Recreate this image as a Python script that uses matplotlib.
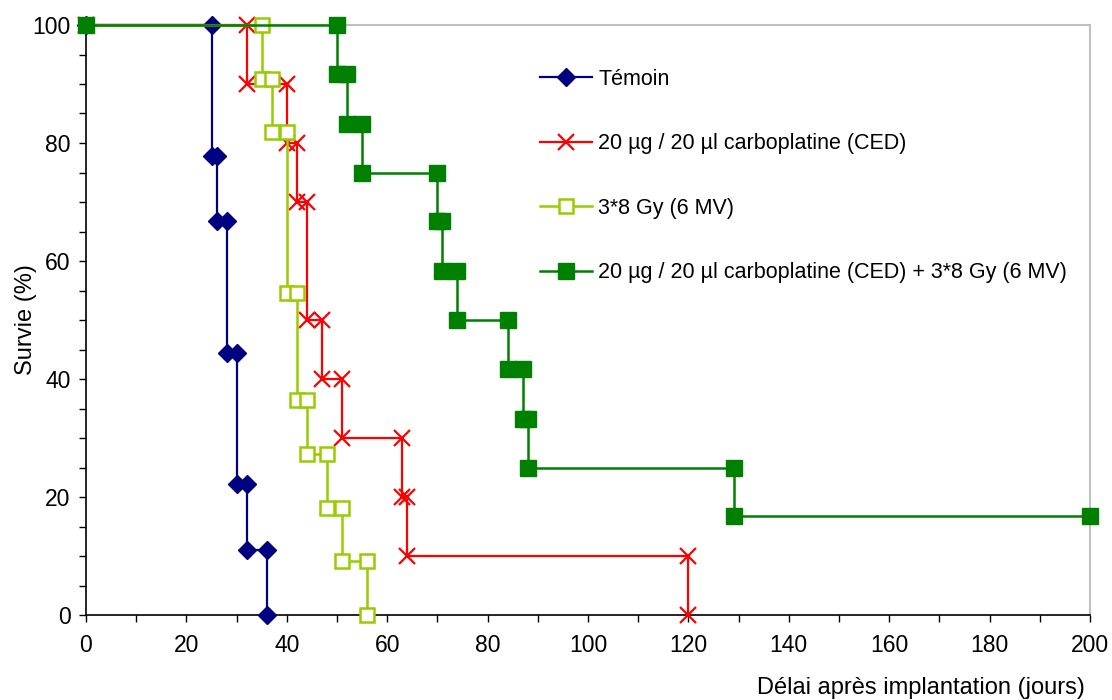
import matplotlib
matplotlib.use("Agg")
import matplotlib.pyplot as plt
from matplotlib.ticker import MultipleLocator

plt.rcParams['font.family'] = ['Liberation Sans', 'DejaVu Sans']

# Kaplan-Meier data: event times (days) and survival (%) after each event
temoin_t = [25, 26, 28, 30, 32, 36]
temoin_s = [77.8, 66.7, 44.4, 22.2, 11.1, 0]

carbo_t = [32, 40, 42, 44, 47, 51, 63, 64, 120]
carbo_s = [90, 80, 70, 50, 40, 30, 20, 10, 0]

radio_t = [35, 37, 40, 42, 44, 48, 51, 56]
radio_s = [90.9, 81.8, 54.5, 36.4, 27.3, 18.2, 9.1, 0]

combo_t = [50, 52, 55, 70, 71, 74, 84, 87, 88, 129]
combo_s = [91.7, 83.3, 75, 66.7, 58.3, 50, 41.7, 33.3, 25, 16.7]
combo_end = 200

labels = ['Témoin',
          '20 µg / 20 µl carboplatine (CED)',
          '3*8 Gy (6 MV)',
          '20 µg / 20 µl carboplatine (CED) + 3*8 Gy (6 MV)']


def steps(times, surv, end=None):
    xs, ys = [0], [100]
    prev = 100
    for t, s in zip(times, surv):
        xs += [t, t]
        ys += [prev, s]
        prev = s
    if end is not None:
        xs.append(end)
        ys.append(prev)
    return xs, ys


fig = plt.figure(figsize=(11.12, 7), dpi=100)
ax = fig.add_axes([86/1112, 1-615/700, (1090-86)/1112, (615-25)/700])

x, y = steps(temoin_t, temoin_s)
ax.plot(x, y, color='#000080', lw=1.6, marker='D', ms=9, mfc='#000080',
        mec='#000080', clip_on=False, label=labels[0], zorder=3)
x, y = steps(carbo_t, carbo_s)
ax.plot(x, y, color='#ff0000', lw=1.6, marker='x', ms=11, mew=1.6,
        clip_on=False, label=labels[1], zorder=4)
x, y = steps(radio_t, radio_s)
ax.plot(x, y, color='#99cc00', lw=1.8, marker='s', ms=10, mfc='white',
        mec='#99cc00', mew=1.8, clip_on=False, label=labels[2], zorder=5)
x, y = steps(combo_t, combo_s, combo_end)
ax.plot(x, y, color='#008000', lw=1.8, marker='s', ms=11, mfc='#008000',
        mec='#008000', clip_on=False, label=labels[3], zorder=6)

ax.set_xlim(0, 200)
ax.set_ylim(0, 100)
ax.xaxis.set_major_locator(MultipleLocator(20))
ax.xaxis.set_minor_locator(MultipleLocator(10))
ax.yaxis.set_major_locator(MultipleLocator(20))
ax.yaxis.set_minor_locator(MultipleLocator(5))
ax.tick_params(which='both', direction='out', length=5, width=1, labelsize=16.5)
ax.tick_params(axis='x', pad=9)
ax.tick_params(axis='y', pad=6)

for side in ['top', 'right']:
    ax.spines[side].set_color('#c0c0c0')
    ax.spines[side].set_linewidth(1.5)
for side in ['left', 'bottom']:
    ax.spines[side].set_linewidth(1.2)

ax.set_ylabel('Survie (%)', fontsize=17)
ax.yaxis.set_label_coords(-0.049, 0.5)
fig.text(1085/1112, 1-688/700, 'Délai après implantation (jours)', fontsize=17,
         ha='right', va='center')

fig.legend(loc='upper left', bbox_to_anchor=(540/1112, 1-69/700), frameon=False,
           fontsize=15.5, labelspacing=2.02, handlelength=2.4, handletextpad=0.3,
           borderpad=0, borderaxespad=0)

fig.savefig('out.png', dpi=100)
